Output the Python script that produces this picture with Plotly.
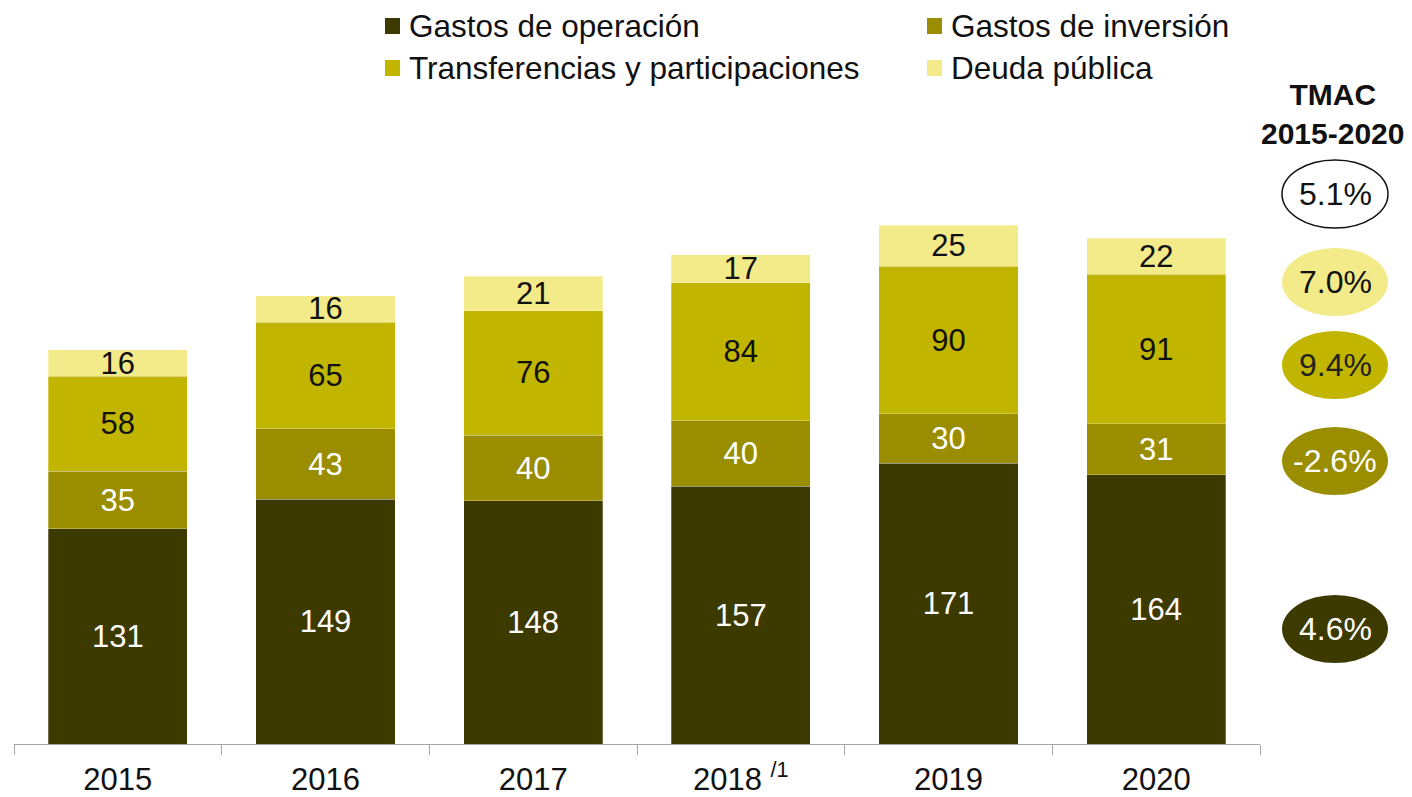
import plotly.graph_objects as go

years = ['2015', '2016', '2017', '2018', '2019', '2020']
year_labels = ['2015', '2016', '2017', '2018 <sup>/1</sup>', '2019', '2020']

gastos_operacion = [131, 149, 148, 157, 171, 164]
gastos_inversion = [35, 43, 40, 40, 30, 31]
transferencias = [58, 65, 76, 84, 90, 91]
deuda_publica = [16, 16, 21, 17, 25, 22]
totales = [240, 272, 285, 298, 316, 308]

series_names = ['Gastos de operación', 'Gastos de inversión',
                'Transferencias y participaciones', 'Deuda pública']
tmac_values = ['4.6%', '-2.6%', '9.4%', '7.0%', '5.1%']

FONT = 'Liberation Sans, Arial, sans-serif'
colors = ['#3d3a00', '#9a8e00', '#c2b500', '#f3ea8a']
text_colors = ['white', 'white', '#111111', '#111111']

# page has an 8px body margin; figure runs to the bottom edge of the window
OFF = 8
W, H = 1412 - 2 * OFF, 797 - OFF
# plot area edges in page pixels
L, R, T, B = 14, 1260, 100, 744


def px_x(p):
    return (p - L) / (R - L)


def px_y(p):
    return (B - p) / (B - T)


fig = go.Figure()
for name, vals, c, tc in zip(series_names,
                             [gastos_operacion, gastos_inversion, transferencias, deuda_publica],
                             colors, text_colors):
    fig.add_trace(go.Bar(
        x=years, y=vals, name=name,
        marker=dict(color=c, line=dict(color='rgba(255,255,255,0.35)', width=0.8)),
        text=[str(v) for v in vals],
        textposition='inside', insidetextanchor='middle', constraintext='none',
        textangle=0,
        textfont=dict(family=FONT, size=31, color=tc),
        hoverinfo='skip',
    ))

# totals above bars
for yr, tot in zip(years, totales):
    fig.add_annotation(x=yr, y=tot, xref='x', yref='y', text=f'<b>{tot}</b>',
                       showarrow=False, yanchor='middle', yshift=36,
                       font=dict(family=FONT, size=31, color='#111111'))

# custom legend (first row kept just inside the top edge)
legend_pos = [(385, 26), (927, 26), (385, 68), (927, 68)]
for (lx, ly), name, c in zip(legend_pos, series_names, colors):
    fig.add_shape(type='rect', xref='paper', yref='paper',
                  x0=px_x(lx), x1=px_x(lx + 15), y0=px_y(ly - 8), y1=px_y(ly + 8),
                  fillcolor=c, line=dict(width=0))
    fig.add_annotation(xref='paper', yref='paper', x=px_x(lx + 22), y=px_y(ly),
                       text=name, showarrow=False, xanchor='left', yanchor='middle',
                       font=dict(family=FONT, size=31.5, color='#111111'))

# TMAC column
fig.add_annotation(xref='paper', yref='paper', x=px_x(1332), y=px_y(114),
                   text='<b>TMAC</b><br><b>2015-2020</b>', showarrow=False,
                   xanchor='center', yanchor='middle',
                   font=dict(family=FONT, size=30, color='#111111'))

ell_y = [629, 461, 365, 282, 194]
ell_fill = [colors[0], colors[1], colors[2], colors[3], 'white']
ell_text = ['white', 'white', '#222222', '#111111', '#111111']
for cy, val, fc, tc in zip(ell_y, tmac_values, ell_fill, ell_text):
    fig.add_shape(type='circle', xref='paper', yref='paper',
                  x0=px_x(1282), x1=px_x(1388), y0=px_y(cy + 34), y1=px_y(cy - 34),
                  fillcolor=fc,
                  line=dict(color='#111111', width=1.5) if fc == 'white' else dict(width=0))
    fig.add_annotation(xref='paper', yref='paper', x=px_x(1335), y=px_y(cy),
                       text=val, showarrow=False, xanchor='center', yanchor='middle',
                       font=dict(family=FONT, size=32, color=tc))

fig.update_layout(
    width=W, height=H,
    margin=dict(l=L - OFF, r=W - (R - OFF), t=T - OFF, b=H - (B - OFF)),
    barmode='stack', bargap=0.33,
    plot_bgcolor='white', paper_bgcolor='white',
    showlegend=False,
    font=dict(family=FONT, size=31, color='#111111'),
    xaxis=dict(
        tickmode='array', tickvals=years, ticktext=year_labels,
        range=[-0.5, 5.5], showgrid=False, zeroline=False,
        showline=True, linecolor='#a6a6a6', linewidth=1,
        ticks='outside', tickson='boundaries', ticklen=10, tickcolor='#a6a6a6',
        tickfont=dict(family=FONT, size=31, color='#111111'),
        ticklabelstandoff=8, automargin=False,
    ),
    yaxis=dict(range=[0, 392.2], visible=False, fixedrange=True, automargin=False),
)

fig.write_html('out.html')
